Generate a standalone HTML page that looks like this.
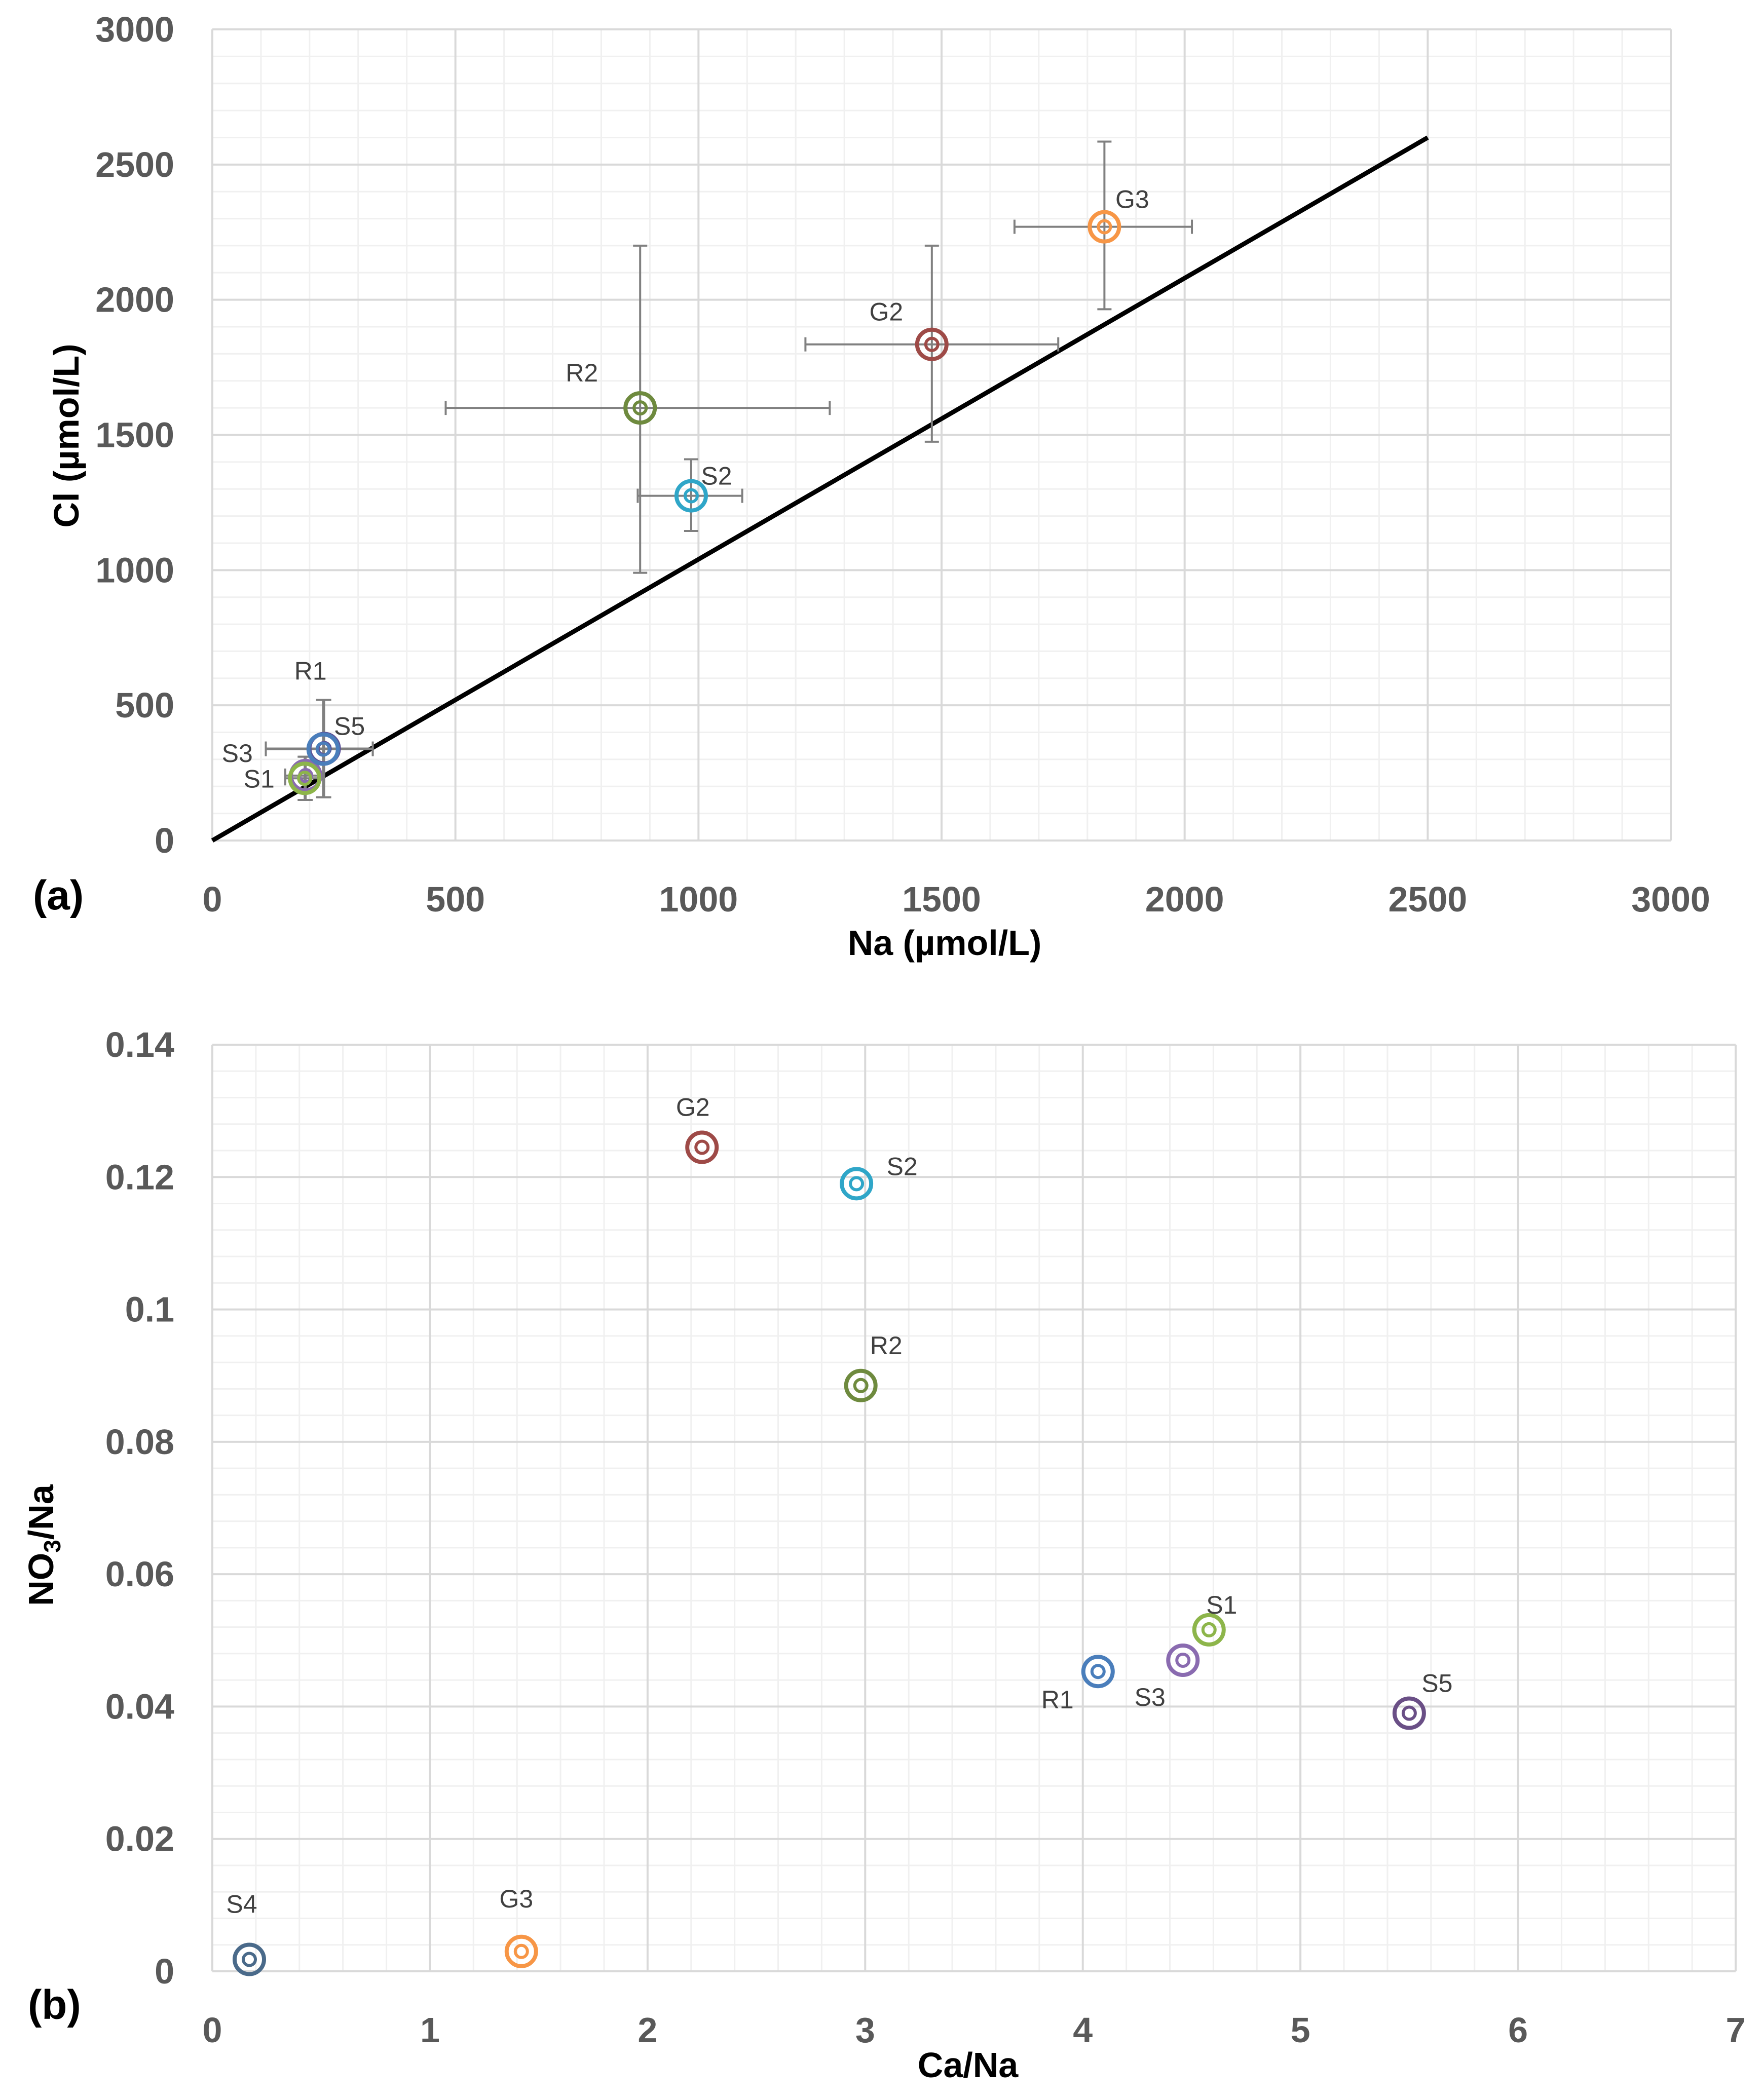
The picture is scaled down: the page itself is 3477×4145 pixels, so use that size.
<!DOCTYPE html>
<html><head><meta charset="utf-8"><style>
html,body{margin:0;padding:0;background:#fff}
svg{display:block}
</style></head><body>
<svg id="chart" width="3477" height="4145" viewBox="0 0 3477 4145" xmlns="http://www.w3.org/2000/svg"></svg>
<script>
// ---- Chart (a) data ----
const aLabels = ["S3","S1","S5","R1","R2","S2","G2","G3"];
const aNa = [192,190,230,228,880,985,1480,1835];
const aCl = [240,230,340,338,1600,1275,1835,2270];
const aNaLo = [150,150,110,110,480,875,1220,1650];
const aNaHi = [230,230,330,330,1270,1090,1740,2015];
const aClLo = [150,150,160,160,990,1145,1475,1965];
const aClHi = [310,310,520,520,2200,1410,2200,2585];
const aColors = ["#8a6bb0","#8db54a","#5a4f96","#4a7ebb","#6e8a3e","#2fa6c8","#9e4a47","#f79646"];
const aXTicks = [0,500,1000,1500,2000,2500,3000];
const aYTicks = [0,500,1000,1500,2000,2500,3000];
const lineX = [0,2500];
const lineY = [0,2600];
// ---- Chart (b) data ----
const bLabels = ["G2","S2","R2","R1","S3","S1","S5","S4","G3"];
const bCaNa = [2.25,2.96,2.98,4.07,4.46,4.58,5.50,0.17,1.42];
const bNO3Na = [0.1245,0.119,0.0885,0.0453,0.047,0.0516,0.039,0.0018,0.003];
const bColors = ["#9e4a47","#2fa6c8","#6e8a3e","#4a7ebb","#8a6bb0","#8db54a","#6a4f86","#4a6a8a","#f79646"];
const bXTicks = [0,1,2,3,4,5,6,7];
const bYTicks = [0,0.02,0.04,0.06,0.08,0.1,0.12,0.14];

const svg = document.getElementById('chart');
const NS = "http://www.w3.org/2000/svg";
function mk(tag, attrs, parent){const e=document.createElementNS(NS,tag);for(const k in attrs)e.setAttribute(k,attrs[k]);(parent||svg).appendChild(e);return e;}
const FONT = '"Liberation Sans", sans-serif';

const A = {x0:419,x1:3297,y0:1659,y1:58,xmax:3000,ymax:3000};
const ax = v => A.x0 + v/A.xmax*(A.x1-A.x0);
const ay = v => A.y0 - v/A.ymax*(A.y0-A.y1);
const B = {x0:419,x1:3425,y0:3891,y1:2062,xmax:7,ymax:0.14};
const bx = v => B.x0 + v/B.xmax*(B.x1-B.x0);
const by = v => B.y0 - v/B.ymax*(B.y0-B.y1);

function grid(fx, fy, P, xmax, ymax, xminor, yminor, name){
  const g = mk('g',{});
  
  
  for(let i=0;i<=Math.round(xmax/xminor);i++){const x=fx(i*xminor);mk('line',{x1:x,x2:x,y1:P.y0,y2:P.y1,stroke:'#f0f0f0','stroke-width':3},g);}
  for(let i=0;i<=Math.round(ymax/yminor);i++){const y=fy(i*yminor);mk('line',{x1:P.x0,x2:P.x1,y1:y,y2:y,stroke:'#f0f0f0','stroke-width':3},g);}
}
function majors(fx, fy, P, xt, yt, name, fmt){
  const g = mk('g',{});
  
  
  xt.forEach(v=>{const x=fx(v);mk('line',{x1:x,x2:x,y1:P.y0,y2:P.y1,stroke:'#d9d9d9','stroke-width':4},g);});
  yt.forEach(v=>{const y=fy(v);mk('line',{x1:P.x0,x2:P.x1,y1:y,y2:y,stroke:'#d9d9d9','stroke-width':4},g);});
  xt.forEach(v=>{const t=mk('text',{x:fx(v),y:P.y0+140,'text-anchor':'middle','font-family':FONT,'font-size':70,'font-weight':'bold',fill:'#595959'});t.textContent=fmt(v);
    });
  yt.forEach(v=>{const t=mk('text',{x:P.x0-75,y:fy(v)+24,'text-anchor':'end','font-family':FONT,'font-size':70,'font-weight':'bold',fill:'#595959'});t.textContent=fmt(v);
    });
}
function marker(x,y,color,name){
  const g=mk('g',{});
  
  
  mk('circle',{cx:x,cy:y,r:29,fill:'none',stroke:color,'stroke-width':8},g);
  mk('circle',{cx:x,cy:y,r:12,fill:'none',stroke:color,'stroke-width':6},g);
}
function label(x,y,txt,name){
  const t=mk('text',{x:x,y:y,'text-anchor':'middle','font-family':FONT,'font-size':50,fill:'#404040'});
  t.textContent=txt;
  
  
}

// ===== Chart (a) =====
grid(ax,ay,A,3000,3000,100,100,'chart-a');
majors(ax,ay,A,aXTicks,aYTicks,'chart-a',v=>String(v));
const ln = mk('line',{x1:ax(lineX[0]),y1:ay(lineY[0]),x2:ax(lineX[1]),y2:ay(lineY[1]),stroke:'#000','stroke-width':9});


aLabels.forEach((l,i)=>{
  const g=mk('g',{stroke:'#808080','stroke-width':4});
  
  
  const x=ax(aNa[i]), y=ay(aCl[i]);
  mk('line',{x1:ax(aNaLo[i]),x2:ax(aNaHi[i]),y1:y,y2:y},g);
  mk('line',{x1:ax(aNaLo[i]),x2:ax(aNaLo[i]),y1:y-14,y2:y+14},g);
  mk('line',{x1:ax(aNaHi[i]),x2:ax(aNaHi[i]),y1:y-14,y2:y+14},g);
  mk('line',{x1:x,x2:x,y1:ay(aClLo[i]),y2:ay(aClHi[i])},g);
  mk('line',{x1:x-14,x2:x+14,y1:ay(aClLo[i]),y2:ay(aClLo[i])},g);
  mk('line',{x1:x-14,x2:x+14,y1:ay(aClHi[i]),y2:ay(aClHi[i])},g);
});
aLabels.forEach((l,i)=>marker(ax(aNa[i]),ay(aCl[i]),aColors[i],'point-a-'+l.toLowerCase()));
const aLblOff = {S1:[-90,0],S3:[-135,-45],S5:[50,-45],R1:[-25,-155],R2:[-115,-70],S2:[50,-40],G2:[-90,-65],G3:[55,-55]};
aLabels.forEach((l,i)=>{const o=aLblOff[l];label(ax(aNa[i])+o[0],ay(aCl[i])+o[1]+18,l,'label-a-'+l.toLowerCase());});
let t;
t=mk('text',{x:1864,y:1885,'text-anchor':'middle','font-family':FONT,'font-size':70,'font-weight':'bold',fill:'#000'});t.textContent='Na (µmol/L)';

t=mk('text',{x:0,y:0,'text-anchor':'middle','font-family':FONT,'font-size':70,'font-weight':'bold',fill:'#000',transform:'translate(155,860) rotate(-90)'});t.textContent='Cl (µmol/L)';

t=mk('text',{x:65,y:1795,'font-family':FONT,'font-size':82,'font-weight':'bold',fill:'#000'});t.textContent='(a)';


// ===== Chart (b) =====
grid(bx,by,B,7,0.14,0.2,0.004,'chart-b');
majors(bx,by,B,bXTicks,bYTicks,'chart-b',v=>String(Math.round(v*100)/100));
bLabels.forEach((l,i)=>marker(bx(bCaNa[i]),by(bNO3Na[i]),bColors[i],'point-b-'+l.toLowerCase()));
const bLblOff = {G2:[-18,-80],S2:[90,-35],R2:[50,-80],R1:[-80,55],S3:[-65,72],S1:[25,-50],S5:[55,-60],S4:[-15,-110],G3:[-10,-105]};
bLabels.forEach((l,i)=>{const o=bLblOff[l];label(bx(bCaNa[i])+o[0],by(bNO3Na[i])+o[1]+18,l,'label-b-'+l.toLowerCase());});
t=mk('text',{x:1910,y:4100,'text-anchor':'middle','font-family':FONT,'font-size':70,'font-weight':'bold',fill:'#000'});t.textContent='Ca/Na';

t=mk('text',{x:0,y:0,'text-anchor':'middle','font-family':FONT,'font-size':70,'font-weight':'bold',fill:'#000',transform:'translate(105,3050) rotate(-90)'});
t.innerHTML='NO<tspan font-size="46" dy="14">3</tspan><tspan dy="-14">/Na</tspan>';

t=mk('text',{x:55,y:3985,'font-family':FONT,'font-size':82,'font-weight':'bold',fill:'#000'});t.textContent='(b)';

</script>
</body></html>
